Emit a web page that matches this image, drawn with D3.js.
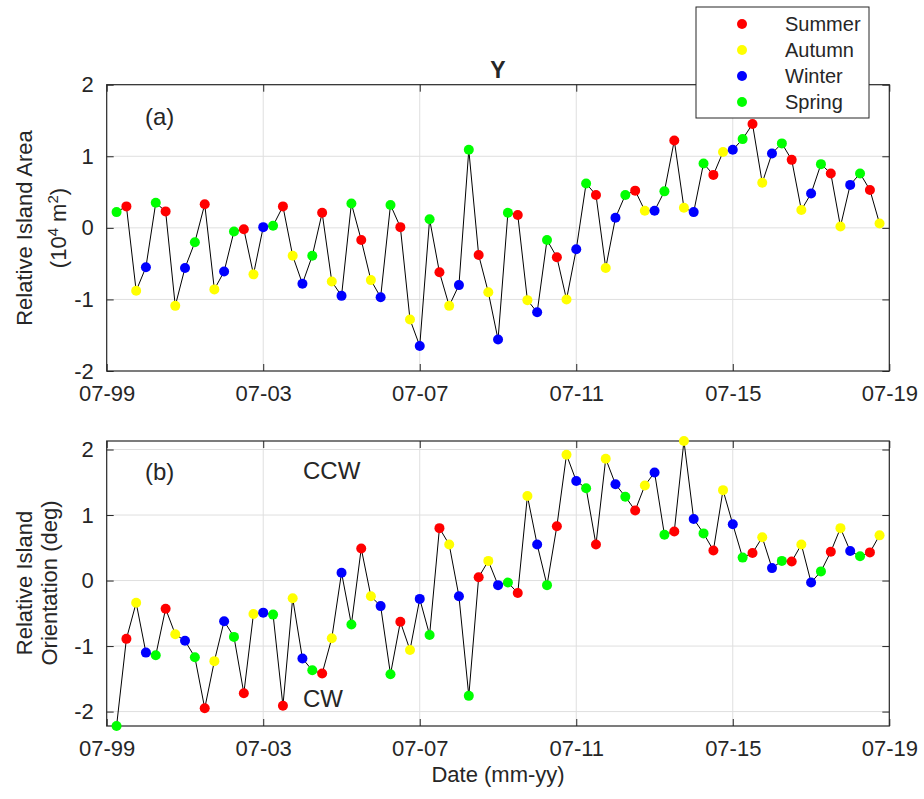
<!DOCTYPE html>
<html>
<head>
<meta charset="utf-8">
<script src="https://cdn.jsdelivr.net/npm/d3@7"></script>
<style>
  body { margin: 0; background: #fff; }
  text { font-family: "Liberation Sans", Arial, Helvetica, sans-serif; fill: #262626; }
</style>
</head>
<body>
<div id="chart"></div>
<script>
// sampling dates (quarterly, southern hemisphere seasons)
var dates = [
  "1999-10",
  "2000-01","2000-04","2000-07","2000-10",
  "2001-01","2001-04","2001-07","2001-10",
  "2002-01","2002-04","2002-07","2002-10",
  "2003-01","2003-04","2003-07","2003-10",
  "2004-01","2004-04","2004-07","2004-10",
  "2005-01","2005-04","2005-07","2005-10",
  "2006-01","2006-04","2006-07","2006-10",
  "2007-01","2007-04","2007-07","2007-10",
  "2008-01","2008-04","2008-07","2008-10",
  "2009-01","2009-04","2009-07","2009-10",
  "2010-01","2010-04","2010-07","2010-10",
  "2011-01","2011-04","2011-07","2011-10",
  "2012-01","2012-04","2012-07","2012-10",
  "2013-01","2013-04","2013-07","2013-10",
  "2014-01","2014-04","2014-07","2014-10",
  "2015-01","2015-04","2015-07","2015-10",
  "2016-01","2016-04","2016-07","2016-10",
  "2017-01","2017-04","2017-07","2017-10",
  "2018-01","2018-04","2018-07","2018-10",
  "2019-01","2019-04"
];

// relative island area (10^4 m^2)
var area = [
  0.22, 0.30, -0.88, -0.55, 0.35, 0.23, -1.09, -0.56, -0.20, 0.33,
  -0.86, -0.61, -0.05, -0.02, -0.65, 0.01, 0.03, 0.30, -0.39, -0.78,
  -0.39, 0.21, -0.75, -0.95, 0.34, -0.17, -0.73, -0.97, 0.32, 0.01,
  -1.28, -1.65, 0.12, -0.62, -1.09, -0.80, 1.09, -0.38, -0.90, -1.56,
  0.21, 0.18, -1.01, -1.18, -0.17, -0.41, -1.00, -0.30, 0.62, 0.46,
  -0.56, 0.14, 0.46, 0.52, 0.24, 0.24, 0.51, 1.22, 0.28, 0.22,
  0.90, 0.74, 1.06, 1.09, 1.24, 1.45, 0.63, 1.04, 1.18, 0.95,
  0.25, 0.48, 0.89, 0.76, 0.02, 0.60, 0.76, 0.53, 0.06
];

// relative island orientation (deg)
var orient = [
  -2.22, -0.89, -0.34, -1.10, -1.14, -0.43, -0.82, -0.92, -1.17, -1.95,
  -1.23, -0.62, -0.86, -1.72, -0.51, -0.49, -0.52, -1.91, -0.27, -1.19,
  -1.37, -1.42, -0.88, 0.12, -0.67, 0.49, -0.24, -0.39, -1.43, -0.63,
  -1.06, -0.28, -0.83, 0.80, 0.55, -0.24, -1.76, 0.05, 0.30, -0.07,
  -0.03, -0.19, 1.29, 0.55, -0.07, 0.83, 1.92, 1.52, 1.41, 0.55,
  1.86, 1.47, 1.28, 1.07, 1.45, 1.65, 0.70, 0.75, 2.13, 0.94,
  0.72, 0.46, 1.38, 0.86, 0.35, 0.42, 0.66, 0.19, 0.30, 0.29,
  0.55, -0.03, 0.14, 0.44, 0.80, 0.45, 0.37, 0.43, 0.69
];

var xTicks = ["1999-07", "2003-07", "2007-07", "2011-07", "2015-07", "2019-07"];
var yTicks = [-2, -1, 0, 1, 2];

var seasons = ["Summer", "Autumn", "Winter", "Spring"];
var seasonColors = ["#ff0000", "#ffff00", "#0000ff", "#00ff00"];
// month of the sample -> season
var monthSeason = { 1: "Summer", 4: "Autumn", 7: "Winter", 10: "Spring" };

var W = 924, H = 799;
var left = 106.7, right = 889.3;
var axisCol = "#262626", gridCol = "#dfdfdf";

var parse = d3.timeParse("%Y-%m");
var fmt = d3.timeFormat("%m-%y");
var dts = dates.map(parse);

var color = d3.scaleOrdinal().domain(seasons).range(seasonColors);

var svg = d3.select("#chart").append("svg")
    .attr("width", W)
    .attr("height", H);

var x = d3.scaleTime()
    .domain([parse(xTicks[0]), parse(xTicks[xTicks.length - 1])])
    .range([left, right]);

function panel(vals, top, bottom, ydom) {
    var y = d3.scaleLinear().domain(ydom).range([bottom, top]);
    var g = svg.append("g");

    // grid
    g.selectAll(".gx").data(xTicks.slice(1, -1)).enter().append("line")
        .attr("x1", d => x(parse(d))).attr("x2", d => x(parse(d)))
        .attr("y1", top).attr("y2", bottom)
        .attr("stroke", gridCol).attr("stroke-width", 1);
    g.selectAll(".gy").data(yTicks.filter(d => d > ydom[0] && d < ydom[1])).enter().append("line")
        .attr("x1", left).attr("x2", right)
        .attr("y1", d => y(d)).attr("y2", d => y(d))
        .attr("stroke", gridCol).attr("stroke-width", 1);

    // axes, ticks inward on all sides
    var ax = g.append("g").attr("transform", "translate(0," + bottom + ")")
        .call(d3.axisBottom(x).tickValues(xTicks.map(parse)).tickFormat(fmt)
            .tickSizeInner(-7).tickSizeOuter(0).tickPadding(14));
    var axTop = g.append("g").attr("transform", "translate(0," + top + ")")
        .call(d3.axisTop(x).tickValues(xTicks.map(parse)).tickFormat("")
            .tickSizeInner(-7).tickSizeOuter(0));
    var ay = g.append("g").attr("transform", "translate(" + left + ",0)")
        .call(d3.axisLeft(y).tickValues(yTicks).tickFormat(d => String(d))
            .tickSizeInner(-7).tickSizeOuter(0).tickPadding(13));
    var ayR = g.append("g").attr("transform", "translate(" + right + ",0)")
        .call(d3.axisRight(y).tickValues(yTicks).tickFormat("")
            .tickSizeInner(-7).tickSizeOuter(0));
    [ax, axTop, ay, ayR].forEach(function (a) {
        a.select(".domain").remove();
        a.selectAll("line").attr("stroke", axisCol).attr("stroke-width", 1);
        a.selectAll("text").style("font-size", "22px").attr("fill", axisCol);
    });
    ax.selectAll("text").attr("dy", "0.71em");

    g.append("rect")
        .attr("x", left).attr("y", top)
        .attr("width", right - left).attr("height", bottom - top)
        .attr("fill", "none").attr("stroke", axisCol).attr("stroke-width", 1.2);

    var line = d3.line()
        .x((d, i) => x(dts[i]))
        .y(d => y(d));
    g.append("path").datum(vals)
        .attr("fill", "none").attr("stroke", "#000").attr("stroke-width", 1)
        .attr("d", line);

    g.selectAll("circle.pt").data(vals).enter().append("circle")
        .attr("class", "pt")
        .attr("cx", (d, i) => x(dts[i]))
        .attr("cy", d => y(d))
        .attr("r", 5)
        .attr("fill", (d, i) => color(monthSeason[dts[i].getMonth() + 1]));
    return g;
}

// (a) area
var ga = panel(area, 84.7, 371, [-2, 2]);
// (b) orientation, tight limits
var gb = panel(orient, 441, 726, d3.extent(orient));

// annotations
function label(t, xx, yy, size, weight) {
    return svg.append("text").attr("x", xx).attr("y", yy)
        .style("font-size", size + "px").style("font-weight", weight || "normal")
        .text(t);
}
label("(a)", 145, 125, 24);
label("(b)", 145, 480, 24);
label("CCW", 303, 479, 24);
label("CW", 303, 707, 24);
label("Y", 498, 78, 23, "bold").attr("text-anchor", "middle");
label("Date (mm-yy)", 498, 782, 22).attr("text-anchor", "middle");

// y labels
var yla = svg.append("text").attr("transform", "translate(32,228) rotate(-90)")
    .attr("text-anchor", "middle").style("font-size", "22px");
yla.append("tspan").attr("x", 0).attr("y", 0).text("Relative Island Area");
var l2 = svg.append("text").attr("transform", "translate(66,228) rotate(-90)")
    .attr("text-anchor", "middle").style("font-size", "22px");
l2.append("tspan").text("(10");
l2.append("tspan").attr("baseline-shift", "super").style("font-size", "15px").text("4");
l2.append("tspan").text(" m");
l2.append("tspan").attr("baseline-shift", "super").style("font-size", "15px").text("2");
l2.append("tspan").text(")");

var ylb = svg.append("text").attr("transform", "translate(32,583) rotate(-90)")
    .attr("text-anchor", "middle").style("font-size", "22px")
    .text("Relative Island");
svg.append("text").attr("transform", "translate(57,583) rotate(-90)")
    .attr("text-anchor", "middle").style("font-size", "22px")
    .text("Orientation (deg)");

// legend
var lg = svg.append("g");
lg.append("rect").attr("x", 696).attr("y", 7).attr("width", 173).attr("height", 111)
    .attr("fill", "#fff").attr("stroke", axisCol).attr("stroke-width", 1);
var rows = lg.selectAll("g.row").data(seasons).enter().append("g").attr("class", "row")
    .attr("transform", (d, i) => "translate(742," + (24 + i * 26) + ")");
rows.append("circle").attr("r", 5).attr("fill", d => color(d));
rows.append("text").attr("x", 43).attr("dy", "0.35em")
    .style("font-size", "20px").text(d => d);
</script>
</body>
</html>
